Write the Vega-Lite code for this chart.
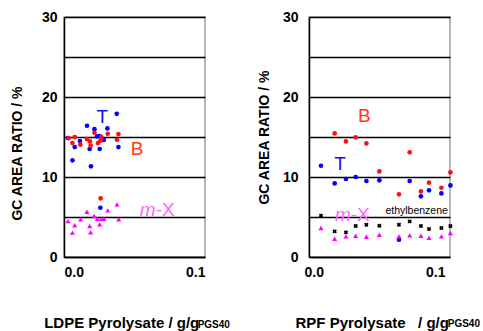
{
  "$schema": "https://vega.github.io/schema/vega-lite/v6.json",
  "padding": {"left": 9, "top": 9, "right": 0, "bottom": 0},
  "background": "white",
  "spacing": 25,
  "config": {
    "font": "Liberation Sans",
    "view": {"stroke": "#a0a0a0", "strokeWidth": 1.5},
    "axis": {
      "labelFont": "Liberation Sans", "labelFontWeight": "bold", "labelFontSize": 14, "labelColor": "black",
      "titleFont": "Liberation Sans", "titleFontWeight": "bold", "titleColor": "black",
      "domainColor": "black", "domainWidth": 1.5, "ticks": false,
      "gridColor": "black", "gridWidth": 1.5, "gridOpacity": 1
    }
  },
  "datasets": {
    "points": [
      {"panel": "L", "series": "T", "x": 0.0028, "y": 14.86},
      {"panel": "L", "series": "T", "x": 0.006, "y": 12.09},
      {"panel": "L", "series": "T", "x": 0.0076, "y": 13.74},
      {"panel": "L", "series": "T", "x": 0.0113, "y": 14.49},
      {"panel": "L", "series": "T", "x": 0.0163, "y": 16.41},
      {"panel": "L", "series": "T", "x": 0.0182, "y": 13.5},
      {"panel": "L", "series": "T", "x": 0.0191, "y": 11.34},
      {"panel": "L", "series": "T", "x": 0.0216, "y": 15.98},
      {"panel": "L", "series": "T", "x": 0.0234, "y": 15.07},
      {"panel": "L", "series": "T", "x": 0.0253, "y": 13.5},
      {"panel": "L", "series": "T", "x": 0.0253, "y": 15.11},
      {"panel": "L", "series": "T", "x": 0.0282, "y": 14.61},
      {"panel": "L", "series": "T", "x": 0.0308, "y": 16.07},
      {"panel": "L", "series": "T", "x": 0.0374, "y": 17.9},
      {"panel": "L", "series": "T", "x": 0.0386, "y": 13.74},
      {"panel": "L", "series": "T", "x": 0.0258, "y": 6.16},
      {"panel": "L", "series": "B", "x": 0.0033, "y": 14.86},
      {"panel": "L", "series": "B", "x": 0.0076, "y": 14.99},
      {"panel": "L", "series": "B", "x": 0.006, "y": 14.24},
      {"panel": "L", "series": "B", "x": 0.0116, "y": 14.04},
      {"panel": "L", "series": "B", "x": 0.0163, "y": 14.74},
      {"panel": "L", "series": "B", "x": 0.0184, "y": 14.45},
      {"panel": "L", "series": "B", "x": 0.0189, "y": 13.92},
      {"panel": "L", "series": "B", "x": 0.0216, "y": 15.53},
      {"panel": "L", "series": "B", "x": 0.0241, "y": 14.24},
      {"panel": "L", "series": "B", "x": 0.0258, "y": 14.54},
      {"panel": "L", "series": "B", "x": 0.0265, "y": 14.99},
      {"panel": "L", "series": "B", "x": 0.031, "y": 15.41},
      {"panel": "L", "series": "B", "x": 0.0376, "y": 14.66},
      {"panel": "L", "series": "B", "x": 0.0386, "y": 15.36},
      {"panel": "L", "series": "B", "x": 0.026, "y": 7.33},
      {"panel": "L", "series": "m-X", "x": 0.0028, "y": 4.5},
      {"panel": "L", "series": "m-X", "x": 0.0076, "y": 3.97},
      {"panel": "L", "series": "m-X", "x": 0.006, "y": 3.05},
      {"panel": "L", "series": "m-X", "x": 0.0118, "y": 4.71},
      {"panel": "L", "series": "m-X", "x": 0.0163, "y": 5.66},
      {"panel": "L", "series": "m-X", "x": 0.0182, "y": 3.88},
      {"panel": "L", "series": "m-X", "x": 0.0189, "y": 3.1},
      {"panel": "L", "series": "m-X", "x": 0.0213, "y": 5.12},
      {"panel": "L", "series": "m-X", "x": 0.0237, "y": 4.79},
      {"panel": "L", "series": "m-X", "x": 0.0253, "y": 4.09},
      {"panel": "L", "series": "m-X", "x": 0.0265, "y": 4.79},
      {"panel": "L", "series": "m-X", "x": 0.0284, "y": 4.79},
      {"panel": "L", "series": "m-X", "x": 0.031, "y": 5.83},
      {"panel": "L", "series": "m-X", "x": 0.0376, "y": 6.58},
      {"panel": "L", "series": "m-X", "x": 0.0388, "y": 4.71},
      {"panel": "R", "series": "T", "x": 0.0085, "y": 11.41},
      {"panel": "R", "series": "T", "x": 0.0182, "y": 9.2},
      {"panel": "R", "series": "T", "x": 0.0262, "y": 9.75},
      {"panel": "R", "series": "T", "x": 0.0331, "y": 10.0},
      {"panel": "R", "series": "T", "x": 0.0407, "y": 9.5},
      {"panel": "R", "series": "T", "x": 0.0499, "y": 9.58},
      {"panel": "R", "series": "T", "x": 0.0638, "y": 2.16},
      {"panel": "R", "series": "T", "x": 0.0714, "y": 9.5},
      {"panel": "R", "series": "T", "x": 0.0794, "y": 7.58},
      {"panel": "R", "series": "T", "x": 0.0851, "y": 8.33},
      {"panel": "R", "series": "T", "x": 0.0939, "y": 7.95},
      {"panel": "R", "series": "T", "x": 0.1003, "y": 8.95},
      {"panel": "R", "series": "B", "x": 0.0182, "y": 15.45},
      {"panel": "R", "series": "B", "x": 0.0262, "y": 14.45},
      {"panel": "R", "series": "B", "x": 0.0331, "y": 14.95},
      {"panel": "R", "series": "B", "x": 0.0407, "y": 14.2},
      {"panel": "R", "series": "B", "x": 0.0499, "y": 10.7},
      {"panel": "R", "series": "B", "x": 0.0638, "y": 7.83},
      {"panel": "R", "series": "B", "x": 0.0714, "y": 13.08},
      {"panel": "R", "series": "B", "x": 0.0794, "y": 8.2},
      {"panel": "R", "series": "B", "x": 0.0851, "y": 9.29},
      {"panel": "R", "series": "B", "x": 0.0939, "y": 8.66},
      {"panel": "R", "series": "B", "x": 0.1003, "y": 10.58},
      {"panel": "R", "series": "ethylbenzene", "x": 0.0085, "y": 5.16},
      {"panel": "R", "series": "ethylbenzene", "x": 0.0182, "y": 3.2},
      {"panel": "R", "series": "ethylbenzene", "x": 0.0262, "y": 3.08},
      {"panel": "R", "series": "ethylbenzene", "x": 0.0331, "y": 3.88},
      {"panel": "R", "series": "ethylbenzene", "x": 0.0407, "y": 4.04},
      {"panel": "R", "series": "ethylbenzene", "x": 0.0499, "y": 3.91},
      {"panel": "R", "series": "ethylbenzene", "x": 0.0638, "y": 4.04},
      {"panel": "R", "series": "ethylbenzene", "x": 0.0714, "y": 4.45},
      {"panel": "R", "series": "ethylbenzene", "x": 0.0794, "y": 3.88},
      {"panel": "R", "series": "ethylbenzene", "x": 0.0851, "y": 3.5},
      {"panel": "R", "series": "ethylbenzene", "x": 0.0939, "y": 3.62},
      {"panel": "R", "series": "ethylbenzene", "x": 0.1003, "y": 3.88},
      {"panel": "R", "series": "m-X", "x": 0.0085, "y": 3.62},
      {"panel": "R", "series": "m-X", "x": 0.0182, "y": 2.29},
      {"panel": "R", "series": "m-X", "x": 0.0262, "y": 2.58},
      {"panel": "R", "series": "m-X", "x": 0.0331, "y": 2.66},
      {"panel": "R", "series": "m-X", "x": 0.0407, "y": 2.54},
      {"panel": "R", "series": "m-X", "x": 0.0499, "y": 2.79},
      {"panel": "R", "series": "m-X", "x": 0.0638, "y": 2.58},
      {"panel": "R", "series": "m-X", "x": 0.0714, "y": 2.7},
      {"panel": "R", "series": "m-X", "x": 0.0794, "y": 2.66},
      {"panel": "R", "series": "m-X", "x": 0.0851, "y": 2.41},
      {"panel": "R", "series": "m-X", "x": 0.0939, "y": 2.58},
      {"panel": "R", "series": "m-X", "x": 0.1003, "y": 3.0}
    ],
    "labels": [
      {"panel": "L", "kind": "big", "text": "T", "x": 0.0271, "y": 16.73},
      {"panel": "L", "kind": "big", "text": "B", "x": 0.0519, "y": 12.8},
      {"panel": "L", "kind": "xpart", "text": "-X", "x": 0.065, "y": 5.12},
      {"panel": "L", "kind": "mpart", "text": "m", "x": 0.065, "y": 5.12},
      {"panel": "L", "kind": "sub", "text": "PGS40", "x": 0.0948, "y": -8.9},
      {"panel": "R", "kind": "big", "text": "B", "x": 0.0393, "y": 16.9},
      {"panel": "R", "kind": "big", "text": "T", "x": 0.0221, "y": 10.9},
      {"panel": "R", "kind": "xpart", "text": "-X", "x": 0.0296, "y": 4.45},
      {"panel": "R", "kind": "mpart", "text": "m", "x": 0.0296, "y": 4.45},
      {"panel": "R", "kind": "small", "text": "ethylbenzene", "x": 0.0542, "y": 5.35},
      {"panel": "R", "kind": "sub", "text": "PGS40", "x": 0.0984, "y": -8.8}
    ]
  },
  "hconcat": [
    {
      "width": 141, "height": 240,
      "encoding": {
        "x": {"field": "x", "type": "quantitative", "scale": {"domain": [0, 0.1], "nice": false},
              "axis": {"values": [0, 0.1], "format": ".1f", "grid": false, "labelPadding": 8, "title": "LDPE Pyrolysate / g/g", "titleFontSize": 15, "titleX": 57.2, "titleY": 70, "titleBaseline": "alphabetic", "titleAlign": "center"}},
        "y": {"field": "y", "type": "quantitative", "scale": {"domain": [0, 30], "nice": false},
              "axis": {"values": [0, 5, 10, 15, 20, 25, 30], "labelExpr": "datum.value % 10 == 0 ? datum.label : ''", "grid": true, "labelPadding": 7, "title": "GC AREA RATIO / %", "titleFontSize": 14, "titleX": -46.3, "titleY": 136, "titleBaseline": "middle", "titleAlign": "center", "titleAngle": -90}}
      },
      "layer": [
        {
          "data": {"name": "points"},
          "transform": [{"filter": "datum.panel == 'L' && datum.series == 'T'"}],
          "mark": {"type": "point", "shape": "circle", "filled": true, "size": 22, "opacity": 1, "color": "#0000ff"}
        },
        {
          "data": {"name": "points"},
          "transform": [{"filter": "datum.panel == 'L' && datum.series == 'B'"}],
          "mark": {"type": "point", "shape": "circle", "filled": true, "size": 22, "opacity": 1, "color": "#ff1010"}
        },
        {
          "data": {"name": "points"},
          "transform": [{"filter": "datum.panel == 'L' && datum.series == 'm-X'"}],
          "mark": {"type": "point", "shape": "triangle-up", "filled": true, "size": 26, "opacity": 1, "color": "#ff00ff"}
        },
        {
          "data": {"name": "labels"},
          "transform": [{"filter": "datum.panel == 'L' && datum.kind == 'big'"}],
          "mark": {"type": "text", "fontSize": 19, "baseline": "alphabetic", "align": "center", "font": "Liberation Sans"},
          "encoding": {
            "text": {"field": "text"},
            "color": {"condition": {"test": "datum.text == 'B'", "value": "#ff3a10"}, "value": "#1010f0"}
          }
        },
        {
          "data": {"name": "labels"},
          "transform": [{"filter": "datum.panel == 'L' && datum.kind == 'xpart'"}],
          "mark": {"type": "text", "fontSize": 19, "baseline": "alphabetic", "align": "left", "color": "#ff66ff", "font": "Liberation Sans"},
          "encoding": {"text": {"field": "text"}}
        },
        {
          "data": {"name": "labels"},
          "transform": [{"filter": "datum.panel == 'L' && datum.kind == 'mpart'"}],
          "mark": {"type": "text", "fontSize": 19, "fontStyle": "italic", "baseline": "alphabetic", "align": "right", "color": "#ff66ff", "font": "Liberation Sans"},
          "encoding": {"text": {"field": "text"}}
        },
        {
          "data": {"name": "labels"},
          "transform": [{"filter": "datum.panel == 'L' && datum.kind == 'sub'"}],
          "mark": {"type": "text", "fontSize": 10, "fontWeight": "bold", "baseline": "alphabetic", "align": "left", "color": "black", "font": "Liberation Sans"},
          "encoding": {"text": {"field": "text"}}
        }
      ]
    },
    {
      "width": 141, "height": 240,
      "encoding": {
        "x": {"field": "x", "type": "quantitative", "scale": {"domain": [0, 0.1], "nice": false},
              "axis": {"values": [0, 0.1], "format": ".1f", "grid": false, "labelPadding": 8, "labelOffset": -5, "title": "RPF Pyrolysate\u00a0\u00a0\u00a0/ g/g", "titleFontSize": 15, "titleX": 62.7, "titleY": 70, "titleBaseline": "alphabetic", "titleAlign": "center"}},
        "y": {"field": "y", "type": "quantitative", "scale": {"domain": [0, 30], "nice": false},
              "axis": {"values": [0, 5, 10, 15, 20, 25, 30], "labelExpr": "datum.value % 10 == 0 ? datum.label : ''", "grid": true, "labelPadding": 11, "title": "GC AREA RATIO / %", "titleFontSize": 14, "titleX": -44.3, "titleY": 120, "titleBaseline": "middle", "titleAlign": "center", "titleAngle": -90}}
      },
      "layer": [
        {
          "data": {"name": "points"},
          "transform": [{"filter": "datum.panel == 'R' && datum.series == 'T'"}],
          "mark": {"type": "point", "shape": "circle", "filled": true, "size": 22, "opacity": 1, "color": "#0000ff"}
        },
        {
          "data": {"name": "points"},
          "transform": [{"filter": "datum.panel == 'R' && datum.series == 'B'"}],
          "mark": {"type": "point", "shape": "circle", "filled": true, "size": 22, "opacity": 1, "color": "#ff1010"}
        },
        {
          "data": {"name": "points"},
          "transform": [{"filter": "datum.panel == 'R' && datum.series == 'm-X'"}],
          "mark": {"type": "point", "shape": "triangle-up", "filled": true, "size": 26, "opacity": 1, "color": "#ff00ff"}
        },
        {
          "data": {"name": "points"},
          "transform": [{"filter": "datum.panel == 'R' && datum.series == 'ethylbenzene'"}],
          "mark": {"type": "point", "shape": "cross", "angle": 45, "filled": true, "size": 20, "opacity": 1, "color": "black"}
        },
        {
          "data": {"name": "labels"},
          "transform": [{"filter": "datum.panel == 'R' && datum.kind == 'big'"}],
          "mark": {"type": "text", "fontSize": 19, "baseline": "alphabetic", "align": "center", "font": "Liberation Sans"},
          "encoding": {
            "text": {"field": "text"},
            "color": {"condition": {"test": "datum.text == 'B'", "value": "#ff3a10"}, "value": "#1010f0"}
          }
        },
        {
          "data": {"name": "labels"},
          "transform": [{"filter": "datum.panel == 'R' && datum.kind == 'xpart'"}],
          "mark": {"type": "text", "fontSize": 19, "baseline": "alphabetic", "align": "left", "color": "#ff66ff", "font": "Liberation Sans"},
          "encoding": {"text": {"field": "text"}}
        },
        {
          "data": {"name": "labels"},
          "transform": [{"filter": "datum.panel == 'R' && datum.kind == 'mpart'"}],
          "mark": {"type": "text", "fontSize": 19, "fontStyle": "italic", "baseline": "alphabetic", "align": "right", "color": "#ff66ff", "font": "Liberation Sans"},
          "encoding": {"text": {"field": "text"}}
        },
        {
          "data": {"name": "labels"},
          "transform": [{"filter": "datum.panel == 'R' && datum.kind == 'small'"}],
          "mark": {"type": "text", "fontSize": 10.5, "baseline": "alphabetic", "align": "left", "color": "black", "font": "Liberation Sans"},
          "encoding": {"text": {"field": "text"}}
        },
        {
          "data": {"name": "labels"},
          "transform": [{"filter": "datum.panel == 'R' && datum.kind == 'sub'"}],
          "mark": {"type": "text", "fontSize": 10, "fontWeight": "bold", "baseline": "alphabetic", "align": "left", "color": "black", "font": "Liberation Sans"},
          "encoding": {"text": {"field": "text"}}
        }
      ]
    }
  ]
}
